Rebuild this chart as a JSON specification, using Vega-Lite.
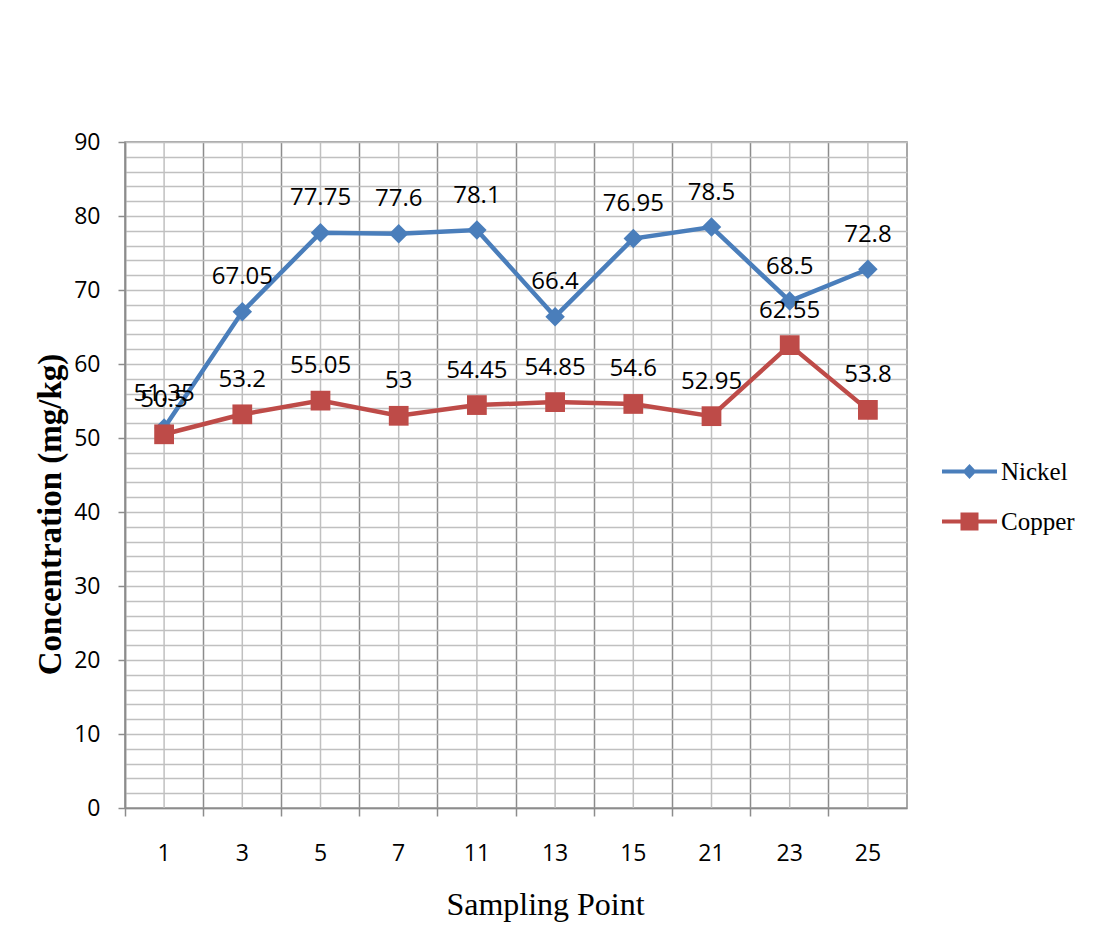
{
  "$schema": "https://vega.github.io/schema/vega-lite/v6.json",
  "width": 782,
  "height": 666,
  "autosize": {"type": "none"},
  "padding": {"left": 125, "top": 142, "right": 190, "bottom": 144},
  "background": "white",
  "config": {
    "view": {"stroke": "#8c8c8c", "strokeWidth": 1.5}
  },
  "data": {
    "values": [
      {"point": "1", "metal": "Nickel", "value": 51.35},
      {"point": "3", "metal": "Nickel", "value": 67.05},
      {"point": "5", "metal": "Nickel", "value": 77.75},
      {"point": "7", "metal": "Nickel", "value": 77.6},
      {"point": "11", "metal": "Nickel", "value": 78.1},
      {"point": "13", "metal": "Nickel", "value": 66.4},
      {"point": "15", "metal": "Nickel", "value": 76.95},
      {"point": "21", "metal": "Nickel", "value": 78.5},
      {"point": "23", "metal": "Nickel", "value": 68.5},
      {"point": "25", "metal": "Nickel", "value": 72.8},
      {"point": "1", "metal": "Copper", "value": 50.5},
      {"point": "3", "metal": "Copper", "value": 53.2},
      {"point": "5", "metal": "Copper", "value": 55.05},
      {"point": "7", "metal": "Copper", "value": 53},
      {"point": "11", "metal": "Copper", "value": 54.45},
      {"point": "13", "metal": "Copper", "value": 54.85},
      {"point": "15", "metal": "Copper", "value": 54.6},
      {"point": "21", "metal": "Copper", "value": 52.95},
      {"point": "23", "metal": "Copper", "value": 62.55},
      {"point": "25", "metal": "Copper", "value": 53.8}
    ]
  },
  "encoding": {
    "x": {
      "field": "point",
      "type": "ordinal",
      "sort": ["1", "3", "5", "7", "11", "13", "15", "21", "23", "25"],
      "scale": {"type": "band", "paddingInner": 0, "paddingOuter": 0},
      "axis": {
        "title": "Sampling Point",
        "bandPosition": 0,
        "grid": true,
        "gridColor": "#8c8c8c",
        "gridWidth": 1.5,
        "domainColor": "#8c8c8c",
        "domainWidth": 1.5,
        "tickColor": "#8c8c8c",
        "tickWidth": 1.5,
        "tickSize": 8,
        "labelAngle": 0,
        "labelFont": "Open Sans",
        "labelFontSize": 23,
        "labelColor": "black",
        "labelPadding": 26,
        "titleFont": "Liberation Serif",
        "titleFontSize": 32,
        "titleFontWeight": "normal",
        "titleColor": "black",
        "titlePadding": 24,
        "titleX": 420
      }
    }
  },
  "layer": [
    {
      "transform": [{"filter": "datum.metal === 'Nickel'"}],
      "mark": {"type": "rule", "color": "#c0c0c0", "strokeWidth": 1.5},
      "encoding": {}
    },
    {
      "encoding": {
        "y": {
          "field": "value",
          "type": "quantitative",
          "scale": {"domain": [0, 90], "nice": false},
          "axis": {
            "title": "Concentration (mg/kg)",
            "values": [0, 2, 4, 6, 8, 10, 12, 14, 16, 18, 20, 22, 24, 26, 28, 30, 32, 34, 36, 38, 40, 42, 44, 46, 48, 50, 52, 54, 56, 58, 60, 62, 64, 66, 68, 70, 72, 74, 76, 78, 80, 82, 84, 86, 88, 90],
            "labelExpr": "datum.value % 10 === 0 ? datum.label : ''",
            "grid": true,
            "gridColor": "#c0c0c0",
            "gridWidth": 1.5,
            "domainColor": "#8c8c8c",
            "domainWidth": 1.5,
            "tickColor": "#8c8c8c",
            "tickWidth": 1.5,
            "tickSize": 7,
            "tickOpacity": {"condition": {"test": "datum.value % 10 === 0", "value": 1}, "value": 0},
            "labelFont": "Open Sans",
            "labelFontSize": 23,
            "labelColor": "black",
            "labelPadding": 18,
            "titleFont": "Liberation Serif",
            "titleFontSize": 33,
            "titleFontWeight": "bold",
            "titleColor": "black",
            "titlePadding": 6,
            "titleY": 372
          }
        },
        "color": {
          "field": "metal",
          "type": "nominal",
          "scale": {"domain": ["Nickel", "Copper"], "range": ["#4a7ebb", "#be4b48"]},
          "legend": {
            "title": null,
            "orient": "none",
            "legendX": 832,
            "legendY": 317,
            "padding": 0,
            "symbolSize": 400,
            "labelFont": "Liberation Serif",
            "labelFontSize": 25,
            "labelColor": "black",
            "labelOffset": 19,
            "rowPadding": 24,
            "encode": {
              "symbols": {
                "update": {
                  "shape": {"signal": "datum.value === 'Nickel' ? 'M-2.75,-0.2H2.75V0.2H-2.75Z M0,-0.75L0.7,0L0,0.75L-0.7,0Z' : 'M-2.75,-0.2H2.75V0.2H-2.75Z M-0.9,-0.9H0.9V0.9H-0.9Z'"},
                  "fill": {"signal": "datum.value === 'Nickel' ? '#4a7ebb' : '#be4b48'"},
                  "size": {"value": 400},
                  "strokeWidth": {"value": 0},
                  "opacity": {"value": 1}
                }
              }
            }
          }
        }
      },
      "layer": [
        {
          "mark": {"type": "line", "strokeWidth": 4.5}
        },
        {
          "transform": [{"filter": "datum.metal === 'Nickel'"}],
          "mark": {"type": "point", "shape": "diamond", "filled": true, "opacity": 1, "size": 380}
        },
        {
          "transform": [{"filter": "datum.metal === 'Copper'"}],
          "mark": {"type": "point", "shape": "square", "filled": true, "opacity": 1, "size": 390}
        },
        {
          "mark": {"type": "text", "font": "Open Sans", "fontSize": 24, "baseline": "middle", "align": "center", "dy": -34.5},
          "encoding": {
            "color": {"value": "black"},
            "text": {"field": "value", "type": "quantitative", "format": ""}
          }
        }
      ]
    }
  ]
}
